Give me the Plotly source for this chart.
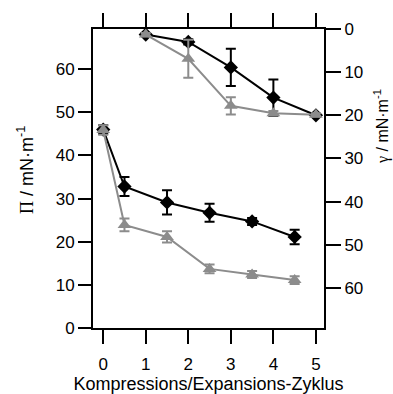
import plotly.graph_objects as go

# Lower curves: surface pressure Pi (left axis)
pi_x = [0, 0.5, 1.5, 2.5, 3.5, 4.5]
pi_black = [46.0, 32.8, 29.1, 26.7, 24.7, 21.1]
pi_black_err = [1.0, 2.2, 2.8, 2.1, 0.8, 1.7]
pi_gray = [45.9, 23.9, 21.1, 13.7, 12.4, 11.1]
pi_gray_err = [1.1, 1.5, 1.3, 1.0, 0.8, 0.9]

# Upper curves: surface tension gamma (right axis, reversed)
g_x = [1, 2, 3, 4, 5]
g_black = [1.3, 3.0, 8.9, 15.9, 20.0]
g_black_err = [0.3, 0.6, 4.3, 4.2, 0.3]
g_gray = [1.3, 6.9, 17.8, 19.5, 19.9]
g_gray_err = [0.4, 4.4, 2.0, 0.5, 0.4]

x_ticks = [0, 1, 2, 3, 4, 5]
y_ticks = [0, 10, 20, 30, 40, 50, 60]

BLACK = "#000000"
GRAY = "#8c8c8c"
FONT = "Liberation Sans"
SERIF = "Liberation Serif"

fig = go.Figure()

def add(x, y, err, color, symbol, size, axis):
    fig.add_trace(go.Scatter(
        x=x, y=y, yaxis=axis, mode="lines+markers",
        line=dict(color=color, width=2),
        marker=dict(symbol=symbol, size=size, color=color),
        error_y=dict(type="data", array=err, visible=True, color=color,
                     thickness=2, width=5),
        showlegend=False, cliponaxis=False,
    ))

add(g_x, g_black, g_black_err, BLACK, "diamond", 11, "y2")
add(g_x, g_gray, g_gray_err, GRAY, "triangle-up", 12, "y2")
add(pi_x, pi_black, pi_black_err, BLACK, "diamond", 11, "y")
add(pi_x, pi_gray, pi_gray_err, GRAY, "triangle-up", 12, "y")

axis_common = dict(showline=True, linecolor="black", linewidth=2,
                   ticks="outside", tickwidth=2, tickcolor="black",
                   showgrid=False, zeroline=False, automargin=False,
                   tickfont=dict(family=FONT, size=17, color="black"))

L, R, T, B = 93, 324, 29, 328
W, H = R - L, B - T

fig.update_layout(
    width=393, height=394,
    margin=dict(l=L, r=393 - R, t=T, b=394 - B, autoexpand=False),
    paper_bgcolor="white", plot_bgcolor="white",
    font=dict(family=FONT, size=16, color="black"),
    xaxis=dict(range=[-0.24, 5.19], tickvals=x_ticks, mirror="ticks", ticklen=14,
               ticklabelstandoff=6,
               title=dict(text="Kompressions/Expansions-Zyklus",
                          font=dict(family=FONT, size=18), standoff=2),
               **axis_common),
    yaxis=dict(range=[0, 69.3], tickvals=y_ticks, ticklen=13, **axis_common),
    yaxis2=dict(range=[69.3, 0], tickvals=y_ticks, overlaying="y", side="right",
                ticklen=15, **axis_common),
    annotations=[
        dict(text=f"<span style='font-family:{SERIF}'>Π</span> / mN·m<sup>-1</sup>",
             textangle=-90, xref="paper", yref="paper",
             x=(25 - L) / W, y=(B - 170) / H, xanchor="center", yanchor="middle",
             showarrow=False, font=dict(family=FONT, size=18)),
        dict(text=f"<span style='font-family:{SERIF}'>γ</span> / mN·m<sup>-1</sup>",
             textangle=-90, xref="paper", yref="paper",
             x=(381 - L) / W, y=(B - 127) / H, xanchor="center", yanchor="middle",
             showarrow=False, font=dict(family=FONT, size=16)),
    ],
)

fig.write_html("out.html", config={"displayModeBar": False},
               post_script="document.body.style.margin='0';document.body.style.padding='0';")
